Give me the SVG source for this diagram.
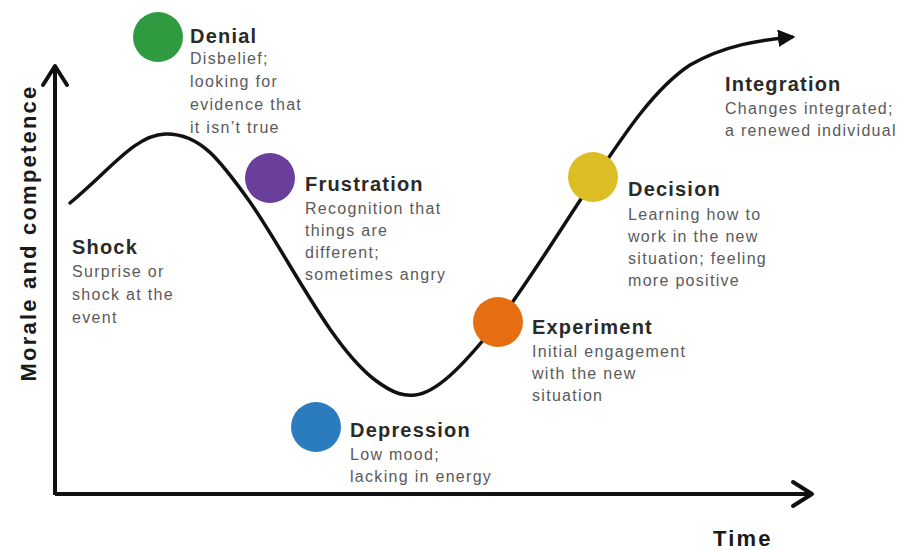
<svg xmlns="http://www.w3.org/2000/svg" width="900" height="550" viewBox="0 0 900 550">
<style>
.t{font-family:"Liberation Sans",Arial,sans-serif;font-weight:bold;font-size:20px;letter-spacing:1.2px;fill:#2a2a2a}
.d{font-family:"Liberation Sans",Arial,sans-serif;font-size:16px;letter-spacing:1.3px;fill:#5a5a5a}
.ax{font-family:"Liberation Sans",Arial,sans-serif;font-weight:bold;font-size:22px;letter-spacing:2.2px;fill:#1a1a1a}
.axis{stroke:#111;stroke-width:4;fill:none}
.chev{stroke:#111;stroke-width:4;fill:none;stroke-linecap:round;stroke-linejoin:round}
.curve{stroke:#111;stroke-width:3.5;fill:none;stroke-linecap:round}
</style>
<defs>
<marker id="ah" viewBox="0 0 10 10" refX="8" refY="5" markerWidth="5" markerHeight="5" orient="auto" markerUnits="strokeWidth">
<path d="M0,0 L10,5 L0,10 z" fill="#111"/>
</marker>
</defs>
<rect width="900" height="550" fill="#ffffff"/>
<g id="connectors">
<line class="axis" x1="55" y1="495" x2="55" y2="68"/>
<polyline class="chev" points="43,85 55,66 67,85"/>
<line class="axis" x1="55" y1="494" x2="810" y2="494"/>
<polyline class="chev" points="793,482 812,494 793,506"/>
<path class="curve" marker-end="url(#ah)" d="M70,203 C110,170 135,135 165,134 C200,133 220,160 250,202 C290,260 330,345 375,380 C395,395 405,396 415,395 C435,393 460,370 498,322 C530,280 565,222 595,178 C625,133 655,88 690,65 C725,45 760,40 792,37"/>
</g>
<g id="axis-labels">
<text class="ax" text-anchor="middle" transform="translate(36,233) rotate(-90)">Morale and competence</text>
<text class="ax" x="713" y="546" letter-spacing="2">Time</text>
</g>
<g id="shock">
<text class="t" x="72" y="254">Shock</text>
<text class="d" x="72" y="277">Surprise or</text>
<text class="d" x="72" y="300">shock at the</text>
<text class="d" x="72" y="323">event</text>
</g>
<g id="denial">
<circle cx="158" cy="37" r="25" fill="#2f9a3f"/>
<text class="t" x="190" y="43">Denial</text>
<text class="d" x="190" y="64">Disbelief;</text>
<text class="d" x="190" y="87">looking for</text>
<text class="d" x="190" y="110">evidence that</text>
<text class="d" x="190" y="133">it isn’t true</text>
</g>
<g id="frustration">
<circle cx="270" cy="178" r="25" fill="#6a3f9b"/>
<text class="t" x="305" y="191">Frustration</text>
<text class="d" x="305" y="214">Recognition that</text>
<text class="d" x="305" y="236">things are</text>
<text class="d" x="305" y="258">different;</text>
<text class="d" x="305" y="280">sometimes angry</text>
</g>
<g id="depression">
<circle cx="316" cy="427" r="25" fill="#2b7bbf"/>
<text class="t" x="350" y="437">Depression</text>
<text class="d" x="350" y="460">Low mood;</text>
<text class="d" x="350" y="482">lacking in energy</text>
</g>
<g id="experiment">
<circle cx="498" cy="322" r="25" fill="#e56d12"/>
<text class="t" x="532" y="334">Experiment</text>
<text class="d" x="532" y="357">Initial engagement</text>
<text class="d" x="532" y="379">with the new</text>
<text class="d" x="532" y="401">situation</text>
</g>
<g id="decision">
<circle cx="593" cy="177" r="25" fill="#dcbd25"/>
<text class="t" x="628" y="196">Decision</text>
<text class="d" x="628" y="220">Learning how to</text>
<text class="d" x="628" y="242">work in the new</text>
<text class="d" x="628" y="264">situation; feeling</text>
<text class="d" x="628" y="286">more positive</text>
</g>
<g id="integration">
<text class="t" x="725" y="91">Integration</text>
<text class="d" x="725" y="114">Changes integrated;</text>
<text class="d" x="725" y="136">a renewed individual</text>
</g>
</svg>
